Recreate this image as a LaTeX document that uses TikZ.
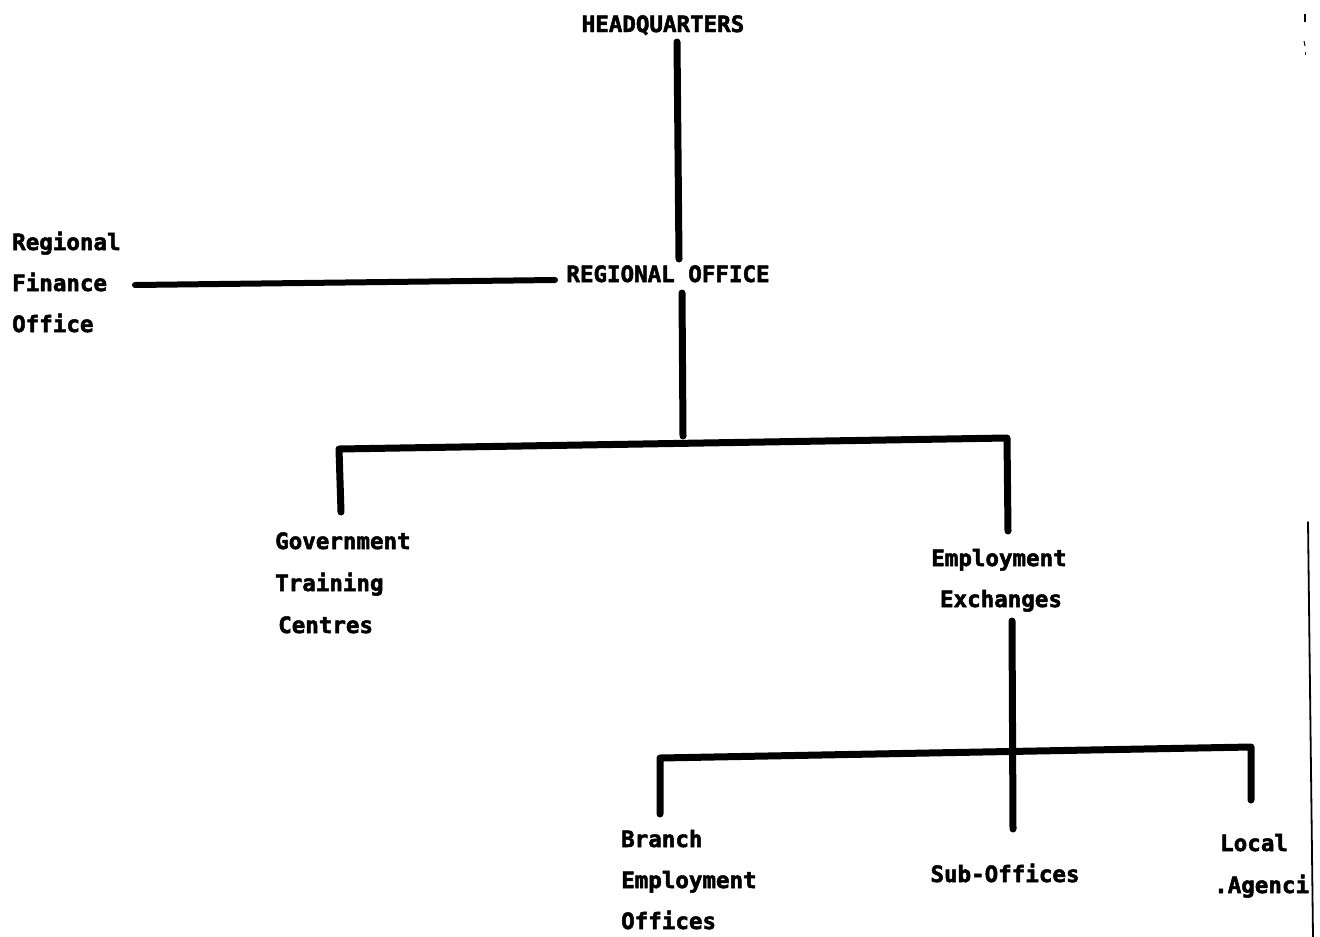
\documentclass[tikz,border=0pt]{standalone}
\usepackage{fontspec}
\setmainfont{DejaVu Sans Mono}[BoldFeatures={FakeBold=2.2}]
\begin{document}
\begin{tikzpicture}[x=1pt,y=-1pt,
  lbl/.style={font=\fontsize{22.5}{27}\selectfont\bfseries, inner sep=0pt},
  conn/.style={line width=7pt, line cap=round, line join=round},
  hair/.style={line width=1.8pt, line cap=round}]
\useasboundingbox[fill=white] (0,0) rectangle (1320,937);

% labels
\node[lbl, anchor=base] (hq) at (663,32) {HEADQUARTERS};
\node[lbl, anchor=base] (ro) at (668,282) {REGIONAL OFFICE};
\node[lbl, anchor=base west] (rfo1) at (12,250) {Regional};
\node[lbl, anchor=base west] (rfo2) at (12,291) {Finance};
\node[lbl, anchor=base west] (rfo3) at (12,332) {Office};
\node[lbl, anchor=base west] (gtc1) at (275,549) {Government};
\node[lbl, anchor=base west] (gtc2) at (275,591) {Training};
\node[lbl, anchor=base west] (gtc3) at (278,633) {Centres};
\node[lbl, anchor=base] (ee1) at (999,566) {Employment};
\node[lbl, anchor=base] (ee2) at (1001,607) {Exchanges};
\node[lbl, anchor=base west] (beo1) at (621,847) {Branch};
\node[lbl, anchor=base west] (beo2) at (621,888) {Employment};
\node[lbl, anchor=base west] (beo3) at (621,929) {Offices};
\node[lbl, anchor=base] (so) at (1005,882) {Sub-Offices};
\node[lbl, anchor=base west] (la1) at (1220,851) {Local};
\node[lbl, anchor=base west] (la2) at (1214,893) {.Agencies};

% connector end points
\coordinate (hqA) at (677,42);
\coordinate (hqB) at (679,259);
\coordinate (finA) at (135,285);
\coordinate (finB) at (555,280);
\coordinate (roA) at (682,293);
\coordinate (roB) at (683,436);
\coordinate (barL) at (339,449);
\coordinate (barR) at (1007,438);
\coordinate (gtcE) at (341,512);
\coordinate (eeE) at (1008,531);
\coordinate (exA) at (1012,621);
\coordinate (exB) at (1013,829);
\coordinate (barLL) at (660,758);
\coordinate (barLR) at (1251,747);
\coordinate (beoE) at (660,814);
\coordinate (laE) at (1251,800);

\draw[conn] (hqA) -- (hqB);
\draw[conn, line width=6pt] (finA) -- (finB);
\draw[conn] (roA) -- (roB);
\draw[conn] (gtcE) -- (barL) -- (barR) -- (eeE);
\draw[conn] (exA) -- (exB);
\draw[conn] (beoE) -- (barLL) -- (barLR) -- (laE);

% scan edge marks
\coordinate (edgeT) at (1308,522);
\coordinate (edgeB) at (1313,937);
\fill[white] (1309,870) rectangle (1320,937);
\draw[hair] (edgeT) -- (edgeB);
\coordinate (m1a) at (1305,14);
\coordinate (m1b) at (1305,22);
\coordinate (m2a) at (1304,41);
\coordinate (m2b) at (1305,46);
\coordinate (m3a) at (1305,52);
\coordinate (m3b) at (1305,55);
\draw[line width=1.5pt] (m1a) -- (m1b);
\draw[line width=1pt] (m2a) -- (m2b);
\draw[line width=1pt] (m3a) -- (m3b);
\end{tikzpicture}
\end{document}
